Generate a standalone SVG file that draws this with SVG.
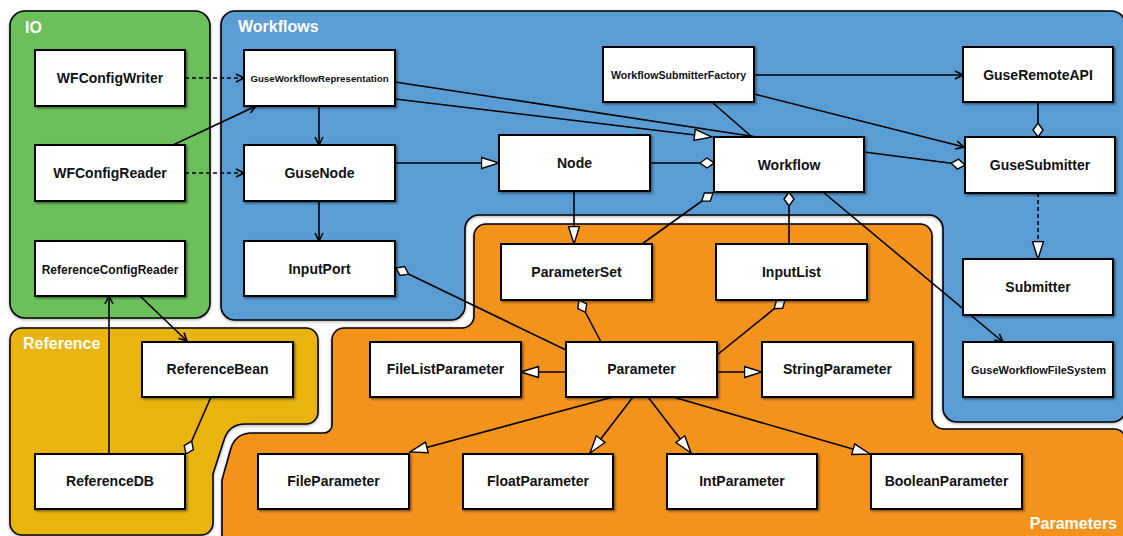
<svg xmlns="http://www.w3.org/2000/svg" width="1123" height="536" viewBox="0 0 1123 536">
  <style>
    .region { stroke: #000; stroke-width: 1.6; }
    .box rect { fill: #fff; stroke: #000; stroke-width: 2; filter: url(#shadow); }
    .box text { font-family: "Liberation Sans", Arial, sans-serif; font-weight: bold; font-size: 14px; fill: #111; text-anchor: middle; }
    .box text.small { font-size: 9.7px; }
    .box text.mid { font-size: 10.6px; }
    .box text.med { font-size: 11px; }
    .box text.rcr { font-size: 12px; }
    .label { font-family: "Liberation Sans", Arial, sans-serif; font-weight: bold; font-size: 16px; fill: #fff; }
    #connectors line, #connectors path { stroke: #000; stroke-width: 1.6; fill: none; }
    #connectors .dash { stroke-dasharray: 4 3; }
    .open { marker-end: url(#arrowOpen); }
    .gen { marker-end: url(#arrowGen); }
    .agg { marker-end: url(#diamond); }
  </style>
  <defs>
    <filter id="shadow" x="-10%" y="-10%" width="130%" height="140%">
      <feDropShadow dx="1.5" dy="1.5" stdDeviation="1" flood-color="#000" flood-opacity="0.45"/>
    </filter>
    <filter id="rshadow" x="-5%" y="-5%" width="110%" height="110%">
      <feDropShadow dx="0" dy="1" stdDeviation="1.5" flood-color="#000" flood-opacity="0.35"/>
    </filter>
    <marker id="arrowOpen" markerUnits="userSpaceOnUse" markerWidth="12" markerHeight="12" viewBox="0 0 12 12" refX="11" refY="6" orient="auto">
      <path d="M3,2 L11,6 L3,10" fill="none" stroke="#000" stroke-width="1.6"/>
    </marker>
    <marker id="arrowGen" markerUnits="userSpaceOnUse" markerWidth="20" markerHeight="14" viewBox="0 0 20 14" refX="18.5" refY="7" orient="auto">
      <path d="M1,1.5 L18.5,7 L1,12.5 Z" fill="#fff" stroke="#000" stroke-width="1.4"/>
    </marker>
    <marker id="diamond" markerUnits="userSpaceOnUse" markerWidth="16" markerHeight="12" viewBox="0 0 16 12" refX="15" refY="6" orient="auto">
      <path d="M1,6 L8,1 L15,6 L8,11 Z" fill="#fff" stroke="#000" stroke-width="1.4"/>
    </marker>
  </defs>

  <rect width="1123" height="536" fill="#fff"/>

  <!-- package regions -->
  <g id="region-io">
    <rect class="region" x="10" y="11" width="200" height="307" rx="15" fill="#6cc05b" filter="url(#rshadow)"/>
    <text class="label" x="25" y="33">IO</text>
  </g>
  <g id="region-workflows">
    <path class="region" fill="#5a9cd4" filter="url(#rshadow)" d="M235,11 H1111 A15,15 0 0 1 1126,26 V408 A14,14 0 0 1 1112,422 H957 A14,14 0 0 1 943,408 V229 A14,14 0 0 0 929,215 H479 A14,14 0 0 0 465,229 V306 A14,14 0 0 1 451,320 H235 A14,14 0 0 1 221,306 V25 A14,14 0 0 1 235,11 Z"/>
    <text class="label" x="238" y="32">Workflows</text>
  </g>
  <g id="region-reference">
    <path class="region" fill="#e9b40c" filter="url(#rshadow)" d="M22,328 H306 A12,12 0 0 1 318,340 V412 A12,12 0 0 1 306,424 H245 Q229,424 224,440 L213,474 V523 A12,12 0 0 1 201,535 H22 A12,12 0 0 1 10,523 V340 A12,12 0 0 1 22,328 Z"/>
    <text class="label" x="23" y="349">Reference</text>
  </g>
  <g id="region-parameters">
    <path class="region" fill="#f4931f" filter="url(#rshadow)" d="M486,224 H920 A12,12 0 0 1 932,236 V417 A12,12 0 0 0 944,429 H1114 A12,12 0 0 1 1126,441 V546 H222 V480 L231,448 Q236,433 252,433 H324 A8,8 0 0 0 332,425 V340 A12,12 0 0 1 344,328 H462 A12,12 0 0 0 474,316 V236 A12,12 0 0 1 486,224 Z"/>
    <text class="label" x="1117" y="529" text-anchor="end">Parameters</text>
  </g>

  <!-- connectors -->
  <g id="connectors">
    <!-- IO -->
    <line class="dash open" x1="185" y1="78" x2="244" y2="78"/>
    <line class="dash open" x1="185" y1="173" x2="244" y2="173"/>
    <line class="open" x1="173" y1="145" x2="256" y2="106"/>
    <!-- Workflows -->
    <line class="open" x1="319" y1="106" x2="319" y2="145"/>
    <line class="open" x1="319" y1="201" x2="319" y2="241"/>
    <line class="gen" x1="395" y1="163" x2="499" y2="163"/>
    <line x1="395" y1="82" x2="757" y2="137"/>
    <line class="gen" x1="395" y1="99" x2="712" y2="137"/>
    <line class="open" x1="754" y1="75" x2="963" y2="75"/>
    <line class="open" x1="754" y1="94" x2="964" y2="147"/>
    <line x1="713" y1="103" x2="752" y2="137"/>
    <line class="agg" x1="1038" y1="102" x2="1038" y2="137"/>
    <line class="agg" x1="864" y1="152" x2="965" y2="165"/>
    <line class="dash gen" x1="1038" y1="193" x2="1038" y2="259"/>
    <line class="open" x1="823" y1="192" x2="1003" y2="342"/>
    <line class="agg" x1="650" y1="163" x2="714" y2="163"/>
    <!-- Parameters -->
    <line class="gen" x1="574" y1="191" x2="574" y2="244"/>
    <line class="agg" x1="642" y1="244" x2="713" y2="193"/>
    <line class="agg" x1="789" y1="244" x2="789" y2="192"/>
    <line class="agg" x1="566" y1="350" x2="396" y2="268"/>
    <line class="agg" x1="601" y1="342" x2="579" y2="300"/>
    <line class="agg" x1="717" y1="355" x2="785" y2="300"/>
    <line class="gen" x1="566" y1="372" x2="521" y2="372"/>
    <line class="gen" x1="717" y1="372" x2="762" y2="372"/>
    <line class="gen" x1="613" y1="397" x2="410" y2="452"/>
    <line class="gen" x1="633" y1="397" x2="590" y2="453"/>
    <line class="gen" x1="648" y1="397" x2="691" y2="453"/>
    <line class="gen" x1="673" y1="397" x2="870" y2="454"/>
    <!-- Reference -->
    <line class="open" x1="140" y1="296" x2="187" y2="341"/>
    <line class="open" x1="109" y1="454" x2="109" y2="296"/>
    <line class="agg" x1="211" y1="397" x2="186" y2="454"/>
  </g>

  <!-- classes -->
  <g id="WFConfigWriter" class="box"><rect x="35" y="50" width="150" height="56"/><text x="110" y="83">WFConfigWriter</text></g>
  <g id="WFConfigReader" class="box"><rect x="35" y="145" width="150" height="56"/><text x="110" y="178">WFConfigReader</text></g>
  <g id="ReferenceConfigReader" class="box"><rect x="35" y="241" width="150" height="55"/><text class="rcr" x="110" y="274">ReferenceConfigReader</text></g>

  <g id="GuseWorkflowRepresentation" class="box"><rect x="244" y="50" width="151" height="56"/><text class="small" x="319.5" y="82">GuseWorkflowRepresentation</text></g>
  <g id="GuseNode" class="box"><rect x="244" y="145" width="151" height="56"/><text x="319.5" y="178">GuseNode</text></g>
  <g id="InputPort" class="box"><rect x="244" y="241" width="151" height="55"/><text x="319.5" y="274">InputPort</text></g>
  <g id="WorkflowSubmitterFactory" class="box"><rect x="603" y="47" width="151" height="55"/><text class="mid" x="678.5" y="79">WorkflowSubmitterFactory</text></g>
  <g id="Node" class="box"><rect x="499" y="135" width="151" height="56"/><text x="574.5" y="168">Node</text></g>
  <g id="Workflow" class="box"><rect x="714" y="137" width="150" height="55"/><text x="789" y="170">Workflow</text></g>
  <g id="GuseRemoteAPI" class="box"><rect x="963" y="47" width="150" height="55"/><text x="1038" y="80">GuseRemoteAPI</text></g>
  <g id="GuseSubmitter" class="box"><rect x="965" y="137" width="150" height="56"/><text x="1040" y="170">GuseSubmitter</text></g>
  <g id="Submitter" class="box"><rect x="963" y="259" width="150" height="56"/><text x="1038" y="292">Submitter</text></g>
  <g id="GuseWorkflowFileSystem" class="box"><rect x="963" y="342" width="150" height="55"/><text class="med" x="1038.5" y="374">GuseWorkflowFileSystem</text></g>

  <g id="ParameterSet" class="box"><rect x="501" y="244" width="151" height="56"/><text x="576.5" y="277">ParameterSet</text></g>
  <g id="InputList" class="box"><rect x="716" y="244" width="151" height="56"/><text x="791.5" y="277">InputList</text></g>
  <g id="Parameter" class="box"><rect x="566" y="342" width="151" height="55"/><text x="641.5" y="374">Parameter</text></g>
  <g id="FileListParameter" class="box"><rect x="370" y="342" width="151" height="55"/><text x="445.5" y="374">FileListParameter</text></g>
  <g id="StringParameter" class="box"><rect x="762" y="342" width="151" height="55"/><text x="837.5" y="374">StringParameter</text></g>
  <g id="FileParameter" class="box"><rect x="258" y="454" width="151" height="55"/><text x="333.5" y="486">FileParameter</text></g>
  <g id="FloatParameter" class="box"><rect x="463" y="454" width="150" height="55"/><text x="538" y="486">FloatParameter</text></g>
  <g id="IntParameter" class="box"><rect x="667" y="454" width="150" height="55"/><text x="742" y="486">IntParameter</text></g>
  <g id="BooleanParameter" class="box"><rect x="871" y="454" width="151" height="55"/><text x="946.5" y="486">BooleanParameter</text></g>

  <g id="ReferenceBean" class="box"><rect x="142" y="342" width="151" height="55"/><text x="217.5" y="374">ReferenceBean</text></g>
  <g id="ReferenceDB" class="box"><rect x="35" y="454" width="150" height="55"/><text x="110" y="486">ReferenceDB</text></g>
</svg>
